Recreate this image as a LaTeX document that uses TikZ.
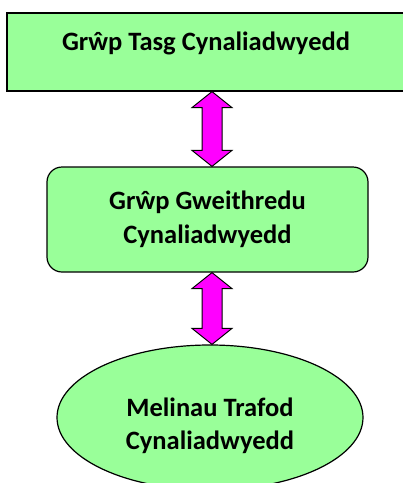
\documentclass[tikz,border=0pt]{standalone}
\usepackage{fontspec}
\setmainfont{Carlito}
\usetikzlibrary{shapes.geometric,calc}
\definecolor{boxgreen}{HTML}{99FF99}
\definecolor{arrowmag}{HTML}{FF00FF}
\newcommand{\dblarrow}[2]{%
  \draw[arrowstyle] (#1) -- ++(20,16) -- ++(-10,0) -- ($(#2)+(10,-16)$) -- ++(10,0) -- (#2)
    -- ++(-20,-16) -- ++(10,0) -- ($(#1)+(-10,16)$) -- ++(-10,0) -- cycle;}
\begin{document}
\begin{tikzpicture}[x=1pt,y=-1pt,
  boxstyle/.style={draw=black, fill=boxgreen, line width=1.2pt, inner sep=0pt},
  txtfont/.style={font=\bfseries\fontsize{26.5}{33.5}\selectfont, text=black},
  arrowstyle/.style={draw=black, fill=arrowmag, line width=1pt, line join=miter}]
\useasboundingbox (0,0) rectangle (403,483);
\clip (0,0) rectangle (403,483);
% nodes
\node[boxstyle, rectangle, minimum width=405pt, minimum height=78pt] (top) at (209.5,52) {};
\node[txtfont, anchor=base] (toptxt) at (206,50) {Grŵp Tasg Cynaliadwyedd};
\node[boxstyle, rectangle, rounded corners=15pt, minimum width=321pt, minimum height=105pt,
  txtfont, align=center] (mid) at (207.5,219.5) {Grŵp Gweithredu\\Cynaliadwyedd};
\node[boxstyle, ellipse, minimum width=306pt, minimum height=145pt] (ell) at (210,417.5) {};
\node[txtfont, align=center] (elltxt) at (210,426) {Melinau Trafod\\Cynaliadwyedd};
% connectors
\coordinate (xa) at (212,0);
\coordinate (a1t) at (top.south -| xa);
\coordinate (a1b) at (mid.north -| xa);
\coordinate (a2t) at (mid.south -| xa);
\coordinate (a2b) at (ell.north -| xa);
\dblarrow{a1t}{a1b}
\dblarrow{a2t}{a2b}
\end{tikzpicture}
\end{document}
